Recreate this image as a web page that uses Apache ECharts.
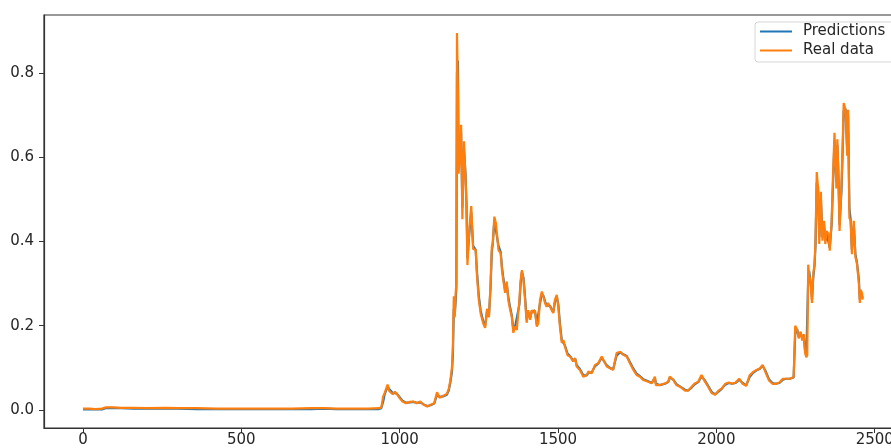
<!DOCTYPE html>
<html>
<head>
<meta charset="utf-8">
<script src="https://cdn.jsdelivr.net/npm/echarts@6/dist/echarts.min.js"></script>
<style>
  html, body { margin: 0; padding: 0; background: #fff; overflow: hidden; }
  /* the plot's right spine sits just past the picture's edge, so the canvas is a bit wider than the window */
  #chart { width: 901px; height: 448px; }
</style>
</head>
<body>
<div id="chart"></div>
<script>
// sample positions (day index)
var xs = [
  0, 20, 40, 60, 72, 90, 120, 160, 200, 260, 300, 360, 420, 480, 540, 600, 660, 720, 760, 800, 850, 900, 935,
  942, 948, 953, 962, 967, 973, 978, 985, 992, 1000, 1009, 1020, 1032, 1043, 1054, 1065, 1076, 1087, 1098, 1109,
  1118, 1126, 1137, 1149, 1155, 1160, 1165, 1168, 1171, 1174, 1177, 1179, 1181, 1184, 1186, 1190, 1194, 1198,
  1203, 1208, 1211, 1214, 1220, 1226, 1232, 1240, 1244, 1250, 1256, 1264, 1270, 1276, 1282, 1287, 1291, 1294,
  1299, 1304, 1312, 1319, 1323, 1327, 1333, 1338, 1343, 1349, 1354, 1359, 1364, 1370, 1378, 1382, 1386, 1391,
  1396, 1401, 1406, 1412, 1417, 1422, 1427, 1433, 1438, 1443, 1449, 1454, 1459, 1464, 1469, 1475, 1480, 1485,
  1490, 1496, 1501, 1506, 1512, 1517, 1522, 1530, 1538, 1548, 1554, 1559, 1569, 1580, 1591, 1596, 1606, 1617,
  1627, 1638, 1643, 1654, 1664, 1674, 1685, 1696, 1706, 1717, 1727, 1738, 1748, 1759, 1769, 1785, 1796, 1806,
  1809, 1822, 1838, 1848, 1853, 1864, 1874, 1885, 1901, 1911, 1922, 1932, 1943, 1953, 1964, 1974, 1985, 1996,
  2006, 2017, 2028, 2039, 2050, 2061, 2072, 2083, 2094, 2105, 2116, 2127, 2138, 2146, 2155, 2166, 2177, 2188,
  2199, 2210, 2221, 2232, 2244, 2249, 2255, 2260, 2266, 2271, 2276, 2280, 2284, 2287, 2290, 2293, 2296, 2299,
  2302, 2306, 2310, 2313, 2317, 2321, 2325, 2330, 2333, 2335, 2340, 2344, 2348, 2354, 2358, 2364, 2368, 2373,
  2379, 2382, 2385, 2389, 2395, 2399, 2402, 2408, 2413, 2416, 2420, 2424, 2428, 2434, 2439, 2444, 2450, 2453,
  2456, 2460, 2462
];

var realData = [
  0.003, 0.003, 0.002, 0.003, 0.006, 0.006, 0.005, 0.005, 0.004, 0.005, 0.004, 0.004, 0.003, 0.003, 0.003, 0.003, 0.003, 0.004, 0.004, 0.003, 0.003, 0.003, 0.004,
  0.006, 0.032, 0.041, 0.060, 0.045, 0.049, 0.037, 0.043, 0.037, 0.028, 0.020, 0.016, 0.019, 0.020, 0.016, 0.020, 0.012, 0.008, 0.012, 0.016,
  0.042, 0.029, 0.033, 0.038, 0.050, 0.070, 0.100, 0.150, 0.270, 0.220, 0.280, 0.300, 0.895, 0.750, 0.561, 0.600, 0.677, 0.453,
  0.638, 0.550, 0.484, 0.344, 0.430, 0.484, 0.382, 0.380, 0.320, 0.260, 0.228, 0.205, 0.195, 0.240, 0.220, 0.300, 0.388, 0.396,
  0.459, 0.443, 0.380, 0.372, 0.332, 0.309, 0.278, 0.305, 0.261, 0.237, 0.221, 0.183, 0.198, 0.190, 0.261, 0.309, 0.332, 0.309,
  0.261, 0.207, 0.237, 0.214, 0.237, 0.230, 0.237, 0.198, 0.207, 0.261, 0.281, 0.269, 0.254, 0.245, 0.254, 0.245, 0.237, 0.230,
  0.261, 0.273, 0.245, 0.198, 0.159, 0.166, 0.150, 0.130, 0.127, 0.115, 0.123, 0.103, 0.095, 0.079, 0.083, 0.091, 0.087, 0.107,
  0.111, 0.127, 0.119, 0.103, 0.099, 0.095, 0.135, 0.138, 0.131, 0.127, 0.111, 0.095, 0.083, 0.079, 0.071, 0.067, 0.063, 0.079,
  0.059, 0.059, 0.063, 0.067, 0.079, 0.071, 0.059, 0.055, 0.046, 0.046, 0.055, 0.063, 0.067, 0.083, 0.067, 0.055, 0.040, 0.036,
  0.045, 0.051, 0.062, 0.065, 0.062, 0.065, 0.074, 0.062, 0.057, 0.082, 0.090, 0.095, 0.099, 0.107, 0.090, 0.070, 0.062, 0.062,
  0.065, 0.074, 0.074, 0.074, 0.078, 0.200, 0.190, 0.170, 0.186, 0.165, 0.180, 0.136, 0.125, 0.130, 0.345, 0.320, 0.310, 0.290,
  0.254, 0.324, 0.347, 0.402, 0.565, 0.526, 0.394, 0.518, 0.440, 0.402, 0.449, 0.394, 0.425, 0.418, 0.378, 0.449, 0.550, 0.658,
  0.526, 0.643, 0.565, 0.425, 0.534, 0.635, 0.729, 0.713, 0.604, 0.713, 0.456, 0.449, 0.370, 0.449, 0.363, 0.347, 0.300, 0.254,
  0.285, 0.277, 0.262
];

var predData = [
  0.001, 0.001, 0.001, 0.001, 0.004, 0.005, 0.004, 0.003, 0.003, 0.003, 0.003, 0.002, 0.002, 0.002, 0.002, 0.002, 0.002, 0.002, 0.003, 0.002, 0.002, 0.002, 0.002,
  0.004, 0.020, 0.038, 0.055, 0.050, 0.046, 0.040, 0.040, 0.038, 0.030, 0.022, 0.017, 0.018, 0.019, 0.017, 0.018, 0.013, 0.009, 0.011, 0.015,
  0.036, 0.031, 0.032, 0.036, 0.046, 0.065, 0.090, 0.130, 0.240, 0.230, 0.260, 0.290, 0.800, 0.830, 0.600, 0.590, 0.660, 0.480,
  0.620, 0.560, 0.490, 0.360, 0.420, 0.470, 0.390, 0.380, 0.330, 0.270, 0.235, 0.210, 0.200, 0.235, 0.225, 0.290, 0.375, 0.395,
  0.450, 0.448, 0.390, 0.375, 0.340, 0.315, 0.285, 0.300, 0.268, 0.243, 0.225, 0.190, 0.196, 0.192, 0.250, 0.300, 0.328, 0.314,
  0.268, 0.215, 0.232, 0.218, 0.234, 0.231, 0.236, 0.204, 0.206, 0.252, 0.276, 0.271, 0.258, 0.248, 0.252, 0.247, 0.239, 0.232,
  0.255, 0.270, 0.250, 0.206, 0.165, 0.165, 0.153, 0.134, 0.128, 0.117, 0.122, 0.106, 0.097, 0.082, 0.082, 0.089, 0.088, 0.104,
  0.110, 0.124, 0.120, 0.106, 0.100, 0.096, 0.129, 0.137, 0.132, 0.128, 0.114, 0.098, 0.086, 0.080, 0.073, 0.068, 0.064, 0.076,
  0.062, 0.059, 0.062, 0.066, 0.077, 0.072, 0.061, 0.056, 0.048, 0.046, 0.053, 0.061, 0.066, 0.080, 0.070, 0.057, 0.043, 0.037,
  0.043, 0.050, 0.060, 0.064, 0.062, 0.064, 0.072, 0.064, 0.058, 0.078, 0.088, 0.094, 0.098, 0.105, 0.093, 0.073, 0.064, 0.062,
  0.064, 0.072, 0.074, 0.074, 0.077, 0.180, 0.192, 0.174, 0.183, 0.170, 0.177, 0.142, 0.128, 0.129, 0.310, 0.330, 0.312, 0.294,
  0.262, 0.315, 0.343, 0.390, 0.540, 0.530, 0.410, 0.500, 0.450, 0.410, 0.440, 0.400, 0.420, 0.418, 0.385, 0.440, 0.530, 0.640,
  0.540, 0.630, 0.570, 0.440, 0.520, 0.620, 0.710, 0.715, 0.620, 0.700, 0.480, 0.452, 0.380, 0.440, 0.370, 0.350, 0.310, 0.262,
  0.280, 0.278, 0.266
];

var xTicks = [0, 500, 1000, 1500, 2000, 2500];
var yTicks = [0, 0.2, 0.4, 0.6, 0.8];

var myChart = echarts.init(document.getElementById('chart'));

var predSeries = xs.map(function (x, i) { return [x, predData[i]]; });
var realSeries = xs.map(function (x, i) { return [x, realData[i]]; });

var labelStyle = {
  fontFamily: 'DejaVu Sans',
  fontSize: 15,
  color: '#262626'
};

var option = {
  backgroundColor: '#fff',
  animation: false,
  grid: {
    left: 44,
    top: 15,
    right: 0,
    bottom: 20,
    show: true,
    borderColor: '#333',
    borderWidth: 1.2
  },
  legend: {
    left: 755,
    top: 22,
    orient: 'vertical',
    icon: 'rect',
    itemWidth: 32,
    itemHeight: 2,
    itemGap: 4,
    padding: [2, 10, 4, 5],
    backgroundColor: '#fff',
    borderColor: '#d6d6d6',
    borderWidth: 1,
    borderRadius: 3,
    textStyle: {
      fontFamily: 'DejaVu Sans',
      fontSize: 15,
      lineHeight: 15,
      color: '#262626',
      padding: [0, 0, 0, 6]
    },
    data: ['Predictions', 'Real data']
  },
  xAxis: {
    type: 'value',
    min: -123,
    max: 2583,
    splitLine: { show: false },
    axisLine: { show: true, onZero: false, lineStyle: { color: '#333', width: 1.2 } },
    axisTick: { show: true, length: 5, customValues: xTicks, lineStyle: { color: '#333' } },
    axisLabel: Object.assign({
      margin: 5,
      customValues: xTicks,
      formatter: function (v) { return String(v); }
    }, labelStyle)
  },
  yAxis: {
    type: 'value',
    min: -0.043,
    max: 0.938,
    splitLine: { show: false },
    axisLine: { show: true, onZero: false, lineStyle: { color: '#333', width: 1.2 } },
    axisTick: { show: true, length: 5, customValues: yTicks, lineStyle: { color: '#333' } },
    axisLabel: Object.assign({
      margin: 10,
      customValues: yTicks,
      formatter: function (v) { return v.toFixed(1); }
    }, labelStyle)
  },
  series: [
    {
      name: 'Predictions',
      type: 'line',
      showSymbol: false,
      symbol: 'none',
      itemStyle: { color: '#1f77b4' },
      lineStyle: { color: '#1f77b4', width: 2.2 },
      data: predSeries
    },
    {
      name: 'Real data',
      type: 'line',
      showSymbol: false,
      symbol: 'none',
      itemStyle: { color: '#ff7f0e' },
      lineStyle: { color: '#ff7f0e', width: 2.2 },
      data: realSeries
    }
  ]
};

myChart.setOption(option, true);
</script>
</body>
</html>
